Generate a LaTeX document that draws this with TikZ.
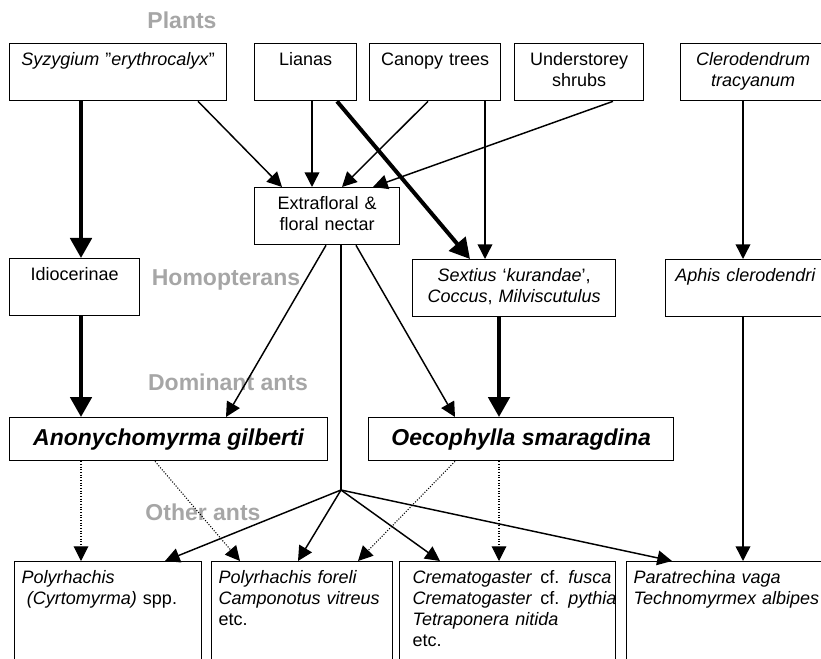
\documentclass[tikz,border=0pt]{standalone}
\usepackage{fontspec}
\setmainfont{Liberation Sans}
\usetikzlibrary{arrows.meta,calc}

\tikzset{
  box/.style={draw, line width=1pt, anchor=north west, inner xsep=0pt, inner ysep=0pt,
    align=center, text height=16.5pt, text depth=26.25pt,
    font=\fontsize{13.5}{15.75}\selectfont},
  antbox/.style={draw, line width=1pt, anchor=north west, inner sep=0pt,
    minimum height=32.25pt, font=\fontsize{17.25}{20}\selectfont\bfseries\itshape},
  otherbox/.style={box, align=left, inner xsep=5.25pt, text depth=81pt},
  group/.style={text=gray!70, font=\fontsize{17.25}{20}\selectfont\bfseries},
  flow/.style={-{Triangle[length=11pt,width=11pt]}, line width=1.1pt},
  mainflow/.style={-{Triangle[length=15pt,width=16pt]}, line width=3pt},
  weakflow/.style={-{Triangle[length=11pt,width=11pt]}, line width=0.8pt,
    dash pattern=on 0.8pt off 1.2pt},
}
\newcommand{\antline}[1]{\hspace*{4.5pt}\mbox{#1}}

\begin{document}
\begin{tikzpicture}[x=0.75pt, y=-0.75pt]
  \useasboundingbox (0,0) rectangle (821,659);
  \clip (0,0) rectangle (821,659);

  % level names
  \node[group] (plantslbl) at (182,20) {Plants};
  \node[group] (homlbl) at (226,280) {Homopterans};
  \node[group] (domlbl) at (228,382) {Dominant ants};
  \node[group] (otherlbl) at (203,512) {Other ants};

  % plants
  \node[box, text width=162.75pt] (syz) at (9,43) {\textit{Syzygium} \char34\textit{erythrocalyx}\char34};
  \node[box, text width=76.5pt] (lianas) at (254,43) {Lianas};
  \node[box, text width=98.25pt] (canopy) at (369,43) {Canopy trees};
  \node[box, text width=96.75pt] (under) at (514,43) {Understorey\\shrubs};
  \node[box, text width=108.75pt] (cler) at (680,43) {\textit{Clerodendrum}\\\textit{tracyanum}};

  \node[box, text width=108.75pt] (nectar) at (254,187) {Extrafloral \&\\floral nectar};

  % homopterans
  \node[box, text width=97.5pt] (idio) at (9,258) {Idiocerinae};
  \node[box, text width=152.25pt] (sext) at (412,259)
    {\textit{Sextius} `\textit{kurandae}',\\\textit{Coccus}, \textit{Milviscutulus}};
  \node[box, text width=120pt] (aphis) at (665,259) {\textit{Aphis clerodendri}};

  % dominant ants
  \node[antbox, minimum width=238.5pt] (anon) at (9,417) {Anonychomyrma gilberti};
  \node[antbox, minimum width=228.75pt] (oeco) at (368,417) {Oecophylla smaragdina};

  % other ants
  \node[otherbox, text width=129.75pt] (poly) at (14,561)
    {\textit{Polyrhachis}\\\hspace*{4pt}\textit{(Cyrtomyrma)} spp.};
  \node[otherbox, text width=125.25pt] (fore) at (211,561)
    {\textit{Polyrhachis foreli}\\\textit{Camponotus vitreus}\\etc.};
  \node[otherbox, text width=151.5pt] (crem) at (399,561)
    {\antline{\textit{Crematogaster}\hspace{0.45em}cf. \textit{fusca}}\\
     \antline{\textit{Crematogaster}\hspace{0.45em}cf. \textit{pythia}}\\
     \antline{\textit{Tetraponera}\hspace{0.35em}\textit{nitida}}\\
     \antline{etc.}};
  \node[otherbox, text width=139.5pt] (para) at (626,561)
    {\textit{Paratrechina vaga}\\\textit{Technomyrmex albipes}};

  \coordinate (fork) at (341,490);

  % plants to nectar and homopterans
  \draw[mainflow] ($(syz.south west)+(72,0)$) -- ($(idio.north west)+(72,0)$);
  \draw[flow] ($(syz.south west)+(189,0)$) -- ($(nectar.north west)+(28,0)$);
  \draw[flow] ($(lianas.south west)+(58,0)$) -- ($(nectar.north west)+(58,0)$);
  \draw[mainflow] ($(lianas.south west)+(83,0)$) -- ($(sext.north west)+(58,0)$);
  \draw[flow] ($(canopy.south west)+(59,0)$) -- ($(nectar.north west)+(88,0)$);
  \draw[flow] ($(canopy.south west)+(116,0)$) -- ($(sext.north west)+(73,0)$);
  \draw[flow] ($(under.south west)+(99,0)$) -- ($(nectar.north west)+(119,0)$);
  \draw[flow] ($(cler.south west)+(63,0)$) -- ($(aphis.north west)+(78,0)$);

  % to dominant ants
  \draw[flow] ($(nectar.south west)+(72,0)$) -- ($(anon.north west)+(217,0)$);
  \draw[flow] ($(nectar.south west)+(102,0)$) -- ($(oeco.north west)+(87,0)$);
  \draw[mainflow] ($(idio.south west)+(72,0)$) -- ($(anon.north west)+(72,0)$);
  \draw[mainflow] ($(sext.south west)+(87,0)$) -- ($(oeco.north west)+(131,0)$);

  % to other ants
  \draw[line width=1.1pt] ($(nectar.south west)+(87,0)$) -- (fork);
  \draw[flow] (fork) -- ($(poly.north west)+(151,0)$);
  \draw[flow] (fork) -- ($(fore.north west)+(87,0)$);
  \draw[flow] (fork) -- ($(crem.north west)+(41,0)$);
  \draw[flow] (fork) -- ($(para.north west)+(46,0)$);
  \draw[flow] ($(aphis.south west)+(78,0)$) -- ($(para.north west)+(117,0)$);

  \draw[weakflow] ($(anon.south west)+(72,0)$) -- ($(poly.north west)+(67,0)$);
  \draw[weakflow] ($(anon.south west)+(146,0)$) -- ($(fore.north west)+(29,0)$);
  \draw[weakflow] ($(oeco.south west)+(87,0)$) -- ($(fore.north west)+(147,0)$);
  \draw[weakflow] ($(oeco.south west)+(131,0)$) -- ($(crem.north west)+(100,0)$);
\end{tikzpicture}
\end{document}
